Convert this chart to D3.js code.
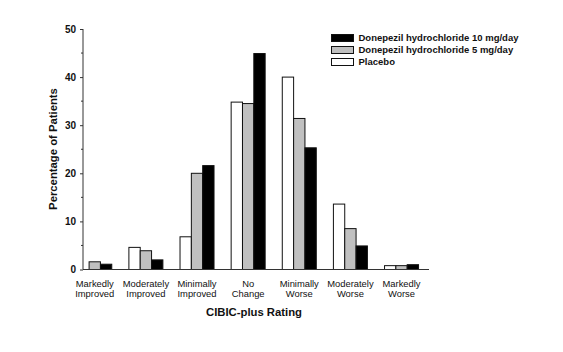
<!DOCTYPE html>
<html>
<head>
<meta charset="utf-8">
<script src="https://cdn.jsdelivr.net/npm/d3@7"></script>
<style>
  body { margin: 0; background: #fff; }
  text { font-family: "Liberation Sans", Arial, sans-serif; fill: #111; }
</style>
</head>
<body>
<div id="chart"></div>
<script>
// CIBIC-plus rating categories (two text lines each)
const categories = ["Markedly Improved", "Moderately Improved", "Minimally Improved", "No Change",
                    "Minimally Worse", "Moderately Worse", "Markedly Worse"];
const catLines = [["Markedly","Improved"],["Moderately","Improved"],["Minimally","Improved"],["No","Change"],
                  ["Minimally","Worse"],["Moderately","Worse"],["Markedly","Worse"]];

// percentage of patients per rating
const placebo = [0, 4.6, 6.8, 34.8, 40.0, 13.6, 0.8];
const dose5   = [1.6, 3.9, 20.0, 34.5, 31.4, 8.5, 0.8];
const dose10  = [1.1, 2.0, 21.6, 44.9, 25.3, 4.9, 1.0];

const seriesNames = ["Placebo", "Donepezil hydrochloride 5 mg/day", "Donepezil hydrochloride 10 mg/day"];
const seriesFill = ["#ffffff", "#c0c0c0", "#000000"];
const legendOrder = [2, 1, 0];

const yTicksMajor = [0, 10, 20, 30, 40, 50];
const yTicksMinor = [5, 15, 25, 35, 45];

const width = 563, height = 352;

const svg = d3.select("#chart").append("svg")
  .attr("width", width)
  .attr("height", height);

// scales
const x = d3.scaleBand()
  .domain(categories)
  .range([69.2, 427.1])
  .paddingInner(0.335)
  .paddingOuter(0.1675);

const xs = d3.scaleBand()
  .domain(d3.range(3))
  .range([0, x.bandwidth()]);

const y = d3.scaleLinear()
  .domain([0, 50])
  .range([269.5, 29]);

const axisX = 83;

// bars
let data = [];
categories.forEach((c, i) => {
  [placebo, dose5, dose10].forEach((s, k) => {
    data.push({cat: c, k: k, value: s[i]});
  });
});

svg.append("g").selectAll("rect")
  .data(data.filter(d => d.value > 0))
  .join("rect")
    .attr("x", d => x(d.cat) + xs(d.k))
    .attr("y", d => y(d.value))
    .attr("width", xs.bandwidth())
    .attr("height", d => y(0) - y(d.value))
    .attr("fill", d => seriesFill[d.k])
    .attr("stroke", "#111")
    .attr("stroke-width", 1);

// y axis
const yAxis = svg.append("g")
  .attr("transform", `translate(${axisX},0)`)
  .call(d3.axisLeft(y).tickValues(yTicksMajor).tickSize(3).tickPadding(4).tickFormat(d3.format("d")));
yAxis.select(".domain").attr("d", `M0,${y(50)}V${y(0)}`).attr("stroke", "#333");
yAxis.selectAll(".tick line").attr("stroke", "#333");
yAxis.selectAll(".tick text")
  .attr("font-size", "10px")
  .attr("font-weight", "bold")
  .attr("font-family", "'Liberation Sans', Arial, sans-serif")
  .attr("fill", "#111");

svg.append("g").selectAll("line")
  .data(yTicksMinor)
  .join("line")
    .attr("x1", axisX - 2)
    .attr("x2", axisX)
    .attr("y1", d => y(d))
    .attr("y2", d => y(d))
    .attr("stroke", "#333");

// x axis baseline
svg.append("line")
  .attr("x1", axisX)
  .attr("x2", 429)
  .attr("y1", y(0))
  .attr("y2", y(0))
  .attr("stroke", "#333");

// category labels
const catG = svg.append("g").selectAll("text")
  .data(categories)
  .join("text")
    .attr("text-anchor", "middle")
    .attr("font-size", "9.4px")
    .attr("x", d => x(d) + x.bandwidth() / 2)
    .attr("y", 286.5);
catG.each(function(d, i) {
  const t = d3.select(this);
  catLines[i].forEach((ln, j) => {
    t.append("tspan")
      .attr("x", x(d) + x.bandwidth() / 2)
      .attr("dy", j === 0 ? 0 : 10.5)
      .text(ln);
  });
});

// axis titles
svg.append("text")
  .attr("text-anchor", "middle")
  .attr("font-size", "11.3px")
  .attr("font-weight", "bold")
  .attr("x", 254)
  .attr("y", 315.5)
  .text("CIBIC-plus Rating");

svg.append("text")
  .attr("text-anchor", "middle")
  .attr("font-size", "11.3px")
  .attr("font-weight", "bold")
  .attr("transform", "translate(57,149) rotate(-90)")
  .text("Percentage of Patients");

// legend
const legend = svg.append("g").selectAll("g")
  .data(legendOrder)
  .join("g")
    .attr("transform", (d, i) => `translate(331,${34 + i * 12})`);

legend.append("rect")
  .attr("x", 0.5)
  .attr("y", 0.5)
  .attr("width", 22)
  .attr("height", 7)
  .attr("fill", d => seriesFill[d])
  .attr("stroke", "#111");

legend.append("text")
  .attr("x", 27.5)
  .attr("y", 7)
  .attr("font-size", "9.5px")
  .attr("font-weight", "bold")
  .text(d => seriesNames[d]);
</script>
</body>
</html>
